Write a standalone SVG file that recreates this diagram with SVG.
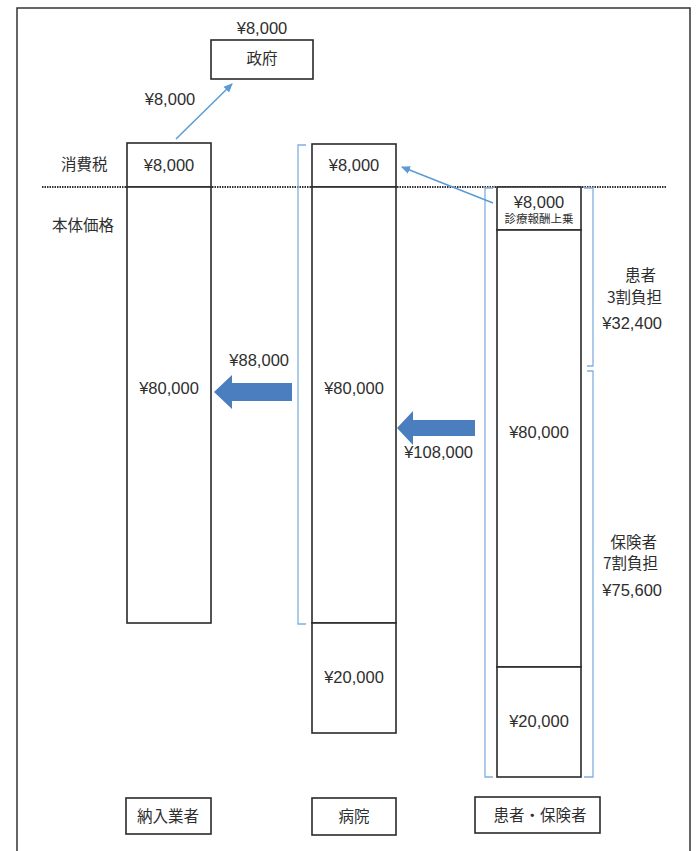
<svg xmlns="http://www.w3.org/2000/svg" width="697" height="851" viewBox="0 0 697 851">
<style>
.box{fill:#fff;stroke:#2a2a2a;stroke-width:1.6}
.num{font-family:"Liberation Sans",Arial,sans-serif;font-size:16.5px;fill:#2e2e2e}
.jp{font-family:"Noto Sans CJK JP","Noto Sans CJK SC",sans-serif;font-size:15.5px;fill:#2e2e2e}
.sm{font-family:"Noto Sans CJK JP","Noto Sans CJK SC",sans-serif;font-size:11.5px;fill:#2e2e2e}
.br{fill:none;stroke:#7fb0de;stroke-width:1.3}
.thin{fill:none;stroke:#5b9bd5;stroke-width:1.5}
.big{fill:#4a7ebf}
</style>
<defs>
<marker id="ah" markerWidth="10" markerHeight="10" refX="8" refY="5" orient="auto" markerUnits="userSpaceOnUse">
<path d="M0,1 L9,5 L0,9 Z" fill="#5b9bd5"/>
</marker>
</defs>
<rect width="697" height="851" fill="#fff"/>
<path d="M17,860 V8 H690 V860" fill="none" stroke="#333" stroke-width="1.5"/>
<line x1="42" y1="187" x2="666" y2="187" stroke="#333" stroke-width="2" stroke-dasharray="1.5 1"/>
<text class="jp" x="61" y="170">消費税</text>
<text class="jp" x="52" y="231">本体価格</text>

<g id="government">
<text class="num" x="262" y="34" text-anchor="middle">¥8,000</text>
<rect class="box" x="211" y="40" width="102" height="39"/>
<text class="jp" x="262" y="64" text-anchor="middle">政府</text>
</g>

<g id="vendor">
<rect class="box" x="127" y="143" width="84" height="44"/>
<rect class="box" x="127" y="187" width="84" height="436"/>
<text class="num" x="169" y="171" text-anchor="middle">¥8,000</text>
<text class="num" x="169" y="394" text-anchor="middle">¥80,000</text>
</g>

<g id="hospital">
<rect class="box" x="312" y="144" width="84" height="43"/>
<rect class="box" x="312" y="187" width="84" height="436"/>
<rect class="box" x="312" y="623" width="84" height="110"/>
<text class="num" x="354" y="171" text-anchor="middle">¥8,000</text>
<text class="num" x="354" y="394" text-anchor="middle">¥80,000</text>
<text class="num" x="354" y="683" text-anchor="middle">¥20,000</text>
</g>

<g id="patient">
<rect class="box" x="497" y="187" width="84" height="43"/>
<rect class="box" x="497" y="230" width="84" height="437"/>
<rect class="box" x="497" y="667" width="84" height="110"/>
<text class="num" x="539" y="208" text-anchor="middle">¥8,000</text>
<text class="sm" x="539" y="223" text-anchor="middle">診療報酬上乗</text>
<text class="num" x="539" y="438" text-anchor="middle">¥80,000</text>
<text class="num" x="539" y="727" text-anchor="middle">¥20,000</text>
</g>

<g id="patient-share">
<text class="jp" x="656" y="281" text-anchor="end">患者</text>
<text class="jp" x="662" y="303" text-anchor="end">3割負担</text>
<text class="num" x="662" y="329" text-anchor="end">¥32,400</text>
</g>

<g id="insurer-share">
<text class="jp" x="657" y="548" text-anchor="end">保険者</text>
<text class="jp" x="658" y="569" text-anchor="end">7割負担</text>
<text class="num" x="662" y="596" text-anchor="end">¥75,600</text>
</g>

<g id="label-vendor">
<rect class="box" x="126" y="798" width="85" height="36"/>
<text class="jp" x="168" y="822" text-anchor="middle">納入業者</text>
</g>
<g id="label-hospital">
<rect class="box" x="312" y="798" width="84" height="37"/>
<text class="jp" x="354" y="822" text-anchor="middle">病院</text>
</g>
<g id="label-patient">
<rect class="box" x="475" y="797" width="125" height="36"/>
<text class="jp" x="540" y="821" text-anchor="middle">患者・保険者</text>
</g>

<g id="connectors">
<path class="br" d="M306,145 H298 V624 H306"/>
<path class="br" d="M493,188 H485 V777 H493"/>
<path class="br" d="M584,188 H593 V366 H587"/>
<path class="br" d="M587,371 H593 V777 H584"/>
<line class="thin" x1="176" y1="139" x2="232" y2="84" marker-end="url(#ah)"/>
<text class="num" x="170" y="105" text-anchor="middle">¥8,000</text>
<line class="thin" x1="493" y1="203" x2="402" y2="167" marker-end="url(#ah)"/>
<polygon class="big" points="292,383 232,383 232,375 214,392 232,409 232,401 292,401"/>
<text class="num" x="289" y="366" text-anchor="end">¥88,000</text>
<polygon class="big" points="475,420 413,420 413,411 397,428 413,445 413,436 475,436"/>
<text class="num" x="473" y="458" text-anchor="end">¥108,000</text>
</g>
</svg>
